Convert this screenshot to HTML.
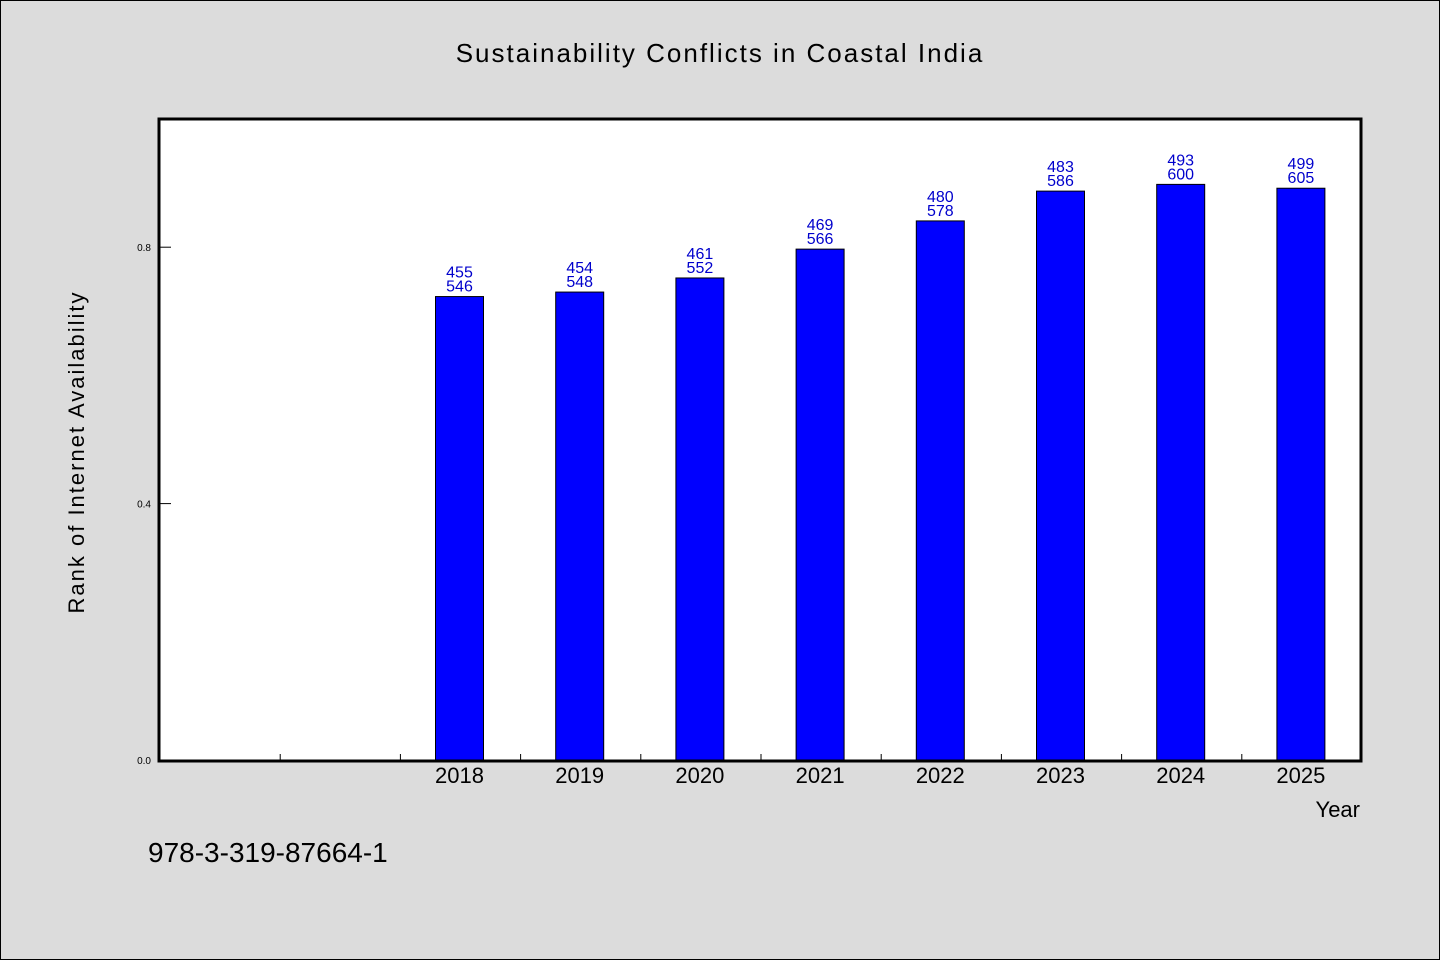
<!DOCTYPE html>
<html><head><meta charset="utf-8"><style>
html,body{margin:0;padding:0;background:#dcdcdc;}
svg{display:block;font-family:"WenQuanYi Zen Hei","Liberation Sans",sans-serif;}
</style></head><body>
<svg id="chart" width="1440" height="960" viewBox="0 0 1440 960">
<rect x="0.5" y="0.5" width="1439" height="959" fill="#dcdcdc" stroke="#000"/>
<text x="720" y="62" text-anchor="middle" font-size="26" letter-spacing="2">Sustainability Conflicts in Coastal India</text>
<rect x="159" y="119" width="1202" height="642" fill="#fff"/>
<g id="marks"></g>
<rect x="159" y="119" width="1202" height="642" fill="none" stroke="#000" stroke-width="3"/>
<text transform="translate(84,452) rotate(-90)" text-anchor="middle" font-size="22" letter-spacing="2">Rank of Internet Availability</text>
<text x="1360" y="817" text-anchor="end" font-size="22">Year</text>
<text x="148" y="862" font-size="28">978-3-319-87664-1</text>
</svg>
<script>
const categories = ["", "", "2018", "2019", "2020", "2021", "2022", "2023", "2024", "2025"];
const values = [null, null, 0.723, 0.730, 0.752, 0.797, 0.841, 0.8875, 0.898, 0.892];
const labelTop = ["", "", "455", "454", "461", "469", "480", "483", "493", "499"];
const labelBottom = ["", "", "546", "548", "552", "566", "578", "586", "600", "605"];
const yTicks = [0.0, 0.4, 0.8];
const yTickLabels = ["0.0", "0.4", "0.8"];

const X0 = 159, X1 = 1361, Y0 = 760, Y1 = 119, YMAX = 1.0;
const slot = (X1 - X0) / categories.length;
const xScale = i => X0 + slot * (i + 0.5);
const yScale = v => Y0 - (v / YMAX) * (Y0 - Y1);
const NS = "http://www.w3.org/2000/svg";
const g = document.getElementById("marks");
function mk(tag, attrs) { const e = document.createElementNS(NS, tag); for (const k in attrs) e.setAttribute(k, attrs[k]); g.appendChild(e); return e; }

yTicks.forEach((t, i) => {
  const y = yScale(t);
  const l = mk("line", {x1: X0, x2: X0 + 12, y1: y, y2: y, stroke: "#000", "stroke-width": 1});
  
  
  const tx = mk("text", {x: X0 - 8, y: y + 4, "text-anchor": "end", "font-size": 10});
  tx.textContent = yTickLabels[i];
  
  
});
for (let i = 1; i < categories.length; i++) {
  const x = X0 + slot * i + 1;
  const l = mk("line", {x1: x, x2: x, y1: Y0, y2: Y0 - 6, stroke: "#000", "stroke-width": 1});
  
  
}
categories.forEach((c, i) => {
  const cx = xScale(i);
  if (c) {
    const t = mk("text", {x: cx, y: Y0 + 23, "text-anchor": "middle", "font-size": 22});
    t.textContent = c;
    
    
  }
  if (values[i] == null) return;
  const top = yScale(values[i]);
  const b = mk("rect", {x: cx - 24, y: top, width: 48, height: Y0 - top, fill: "#0000ff", stroke: "#000", "stroke-width": 1});
  
  
  const t1 = mk("text", {x: cx, y: top - 19, "text-anchor": "middle", "font-size": 16, fill: "#0000cc"});
  t1.textContent = labelTop[i];
  
  
  const t2 = mk("text", {x: cx, y: top - 5, "text-anchor": "middle", "font-size": 16, fill: "#0000cc"});
  t2.textContent = labelBottom[i];
  
  
});
</script>
</body></html>
